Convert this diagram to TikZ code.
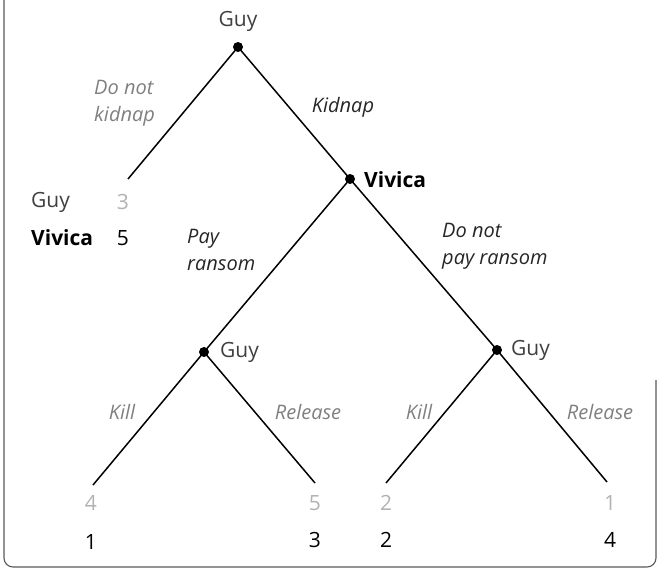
\documentclass[tikz,border=0pt]{standalone}
\usepackage{fontspec}
\setmainfont{Open Sans}
\begin{document}
\begin{tikzpicture}[x=1pt,y=-1pt,
  dot/.style={circle,fill=black,inner sep=0pt,minimum size=10pt},
  branch/.style={line width=1.5pt,black},
  base/.style={inner sep=0pt,font=\fontsize{21}{25}\selectfont},
  guytext/.style={base,text=black!75},
  vivtext/.style={base,font=\fontsize{21}{25}\selectfont\bfseries,text=black},
  guypay/.style={base,text=black!30},
  vivpay/.style={base,text=black},
  movedark/.style={base,font=\fontsize{20}{27}\selectfont\itshape,text=black!85,align=left},
  movelight/.style={base,font=\fontsize{20}{27}\selectfont\itshape,text=black!50,align=left},
  frame/.style={draw=black!65,line width=1.1pt,rounded corners=9pt}]
\useasboundingbox (0,0) rectangle (659,571);
\path[frame] (4,-20) -- (4,567) -- (656,567) -- (656,380);
% decision nodes
\node[dot] (g0) at (238,47) {};
\node[dot] (v) at (350,179) {};
\node[dot] (g1) at (204,352) {};
\node[dot] (g2) at (497,350) {};
% terminal points
\coordinate (t0) at (128,179);
\coordinate (t1) at (93,485);
\coordinate (t2) at (315,483);
\coordinate (t3) at (386,483);
\coordinate (t4) at (607,482);
% branches
\draw[branch] (g0.center) -- (t0);
\draw[branch] (g0.center) -- (v.center);
\draw[branch] (v.center) -- (g1.center);
\draw[branch] (v.center) -- (g2.center);
\draw[branch] (g1.center) -- (t1);
\draw[branch] (g1.center) -- (t2);
\draw[branch] (g2.center) -- (t3);
\draw[branch] (g2.center) -- (t4);
% player labels
\node[guytext] (g0lab) at (238,21) {Guy};
\node[vivtext,anchor=west] (vlab) at (364,180) {Vivica};
\node[guytext,anchor=west] (g1lab) at (220,352) {Guy};
\node[guytext,anchor=west] (g2lab) at (511,350) {Guy};
% move labels
\node[movelight,anchor=west] (m0) at (94,103) {Do not\\kidnap};
\node[movedark] (m1) at (343,107) {Kidnap};
\node[movedark,anchor=west] (m2) at (187,250) {Pay\\ransom};
\node[movedark,anchor=west] (m3) at (442,246) {Do not\\pay ransom};
\node[movelight] (m4) at (122,412) {Kill};
\node[movelight] (m5) at (308,412) {Release};
\node[movelight] (m6) at (419,412) {Kill};
\node[movelight] (m7) at (600,412) {Release};
% payoff legend
\node[guytext,anchor=west] (lg) at (31,202) {Guy};
\node[vivtext,anchor=west] (lv) at (31,238) {Vivica};
\node[guypay] (p0g) at (123,202) {3};
\node[vivpay] (p0v) at (123,238) {5};
% payoffs at leaves
\node[guypay] (p1g) at (91,503) {4};
\node[vivpay] (p1v) at (91,542) {1};
\node[guypay] (p2g) at (315,503) {5};
\node[vivpay] (p2v) at (315,540) {3};
\node[guypay] (p3g) at (386,503) {2};
\node[vivpay] (p3v) at (386,540) {2};
\node[guypay] (p4g) at (610,503) {1};
\node[vivpay] (p4v) at (610,540) {4};
\end{tikzpicture}
\end{document}
